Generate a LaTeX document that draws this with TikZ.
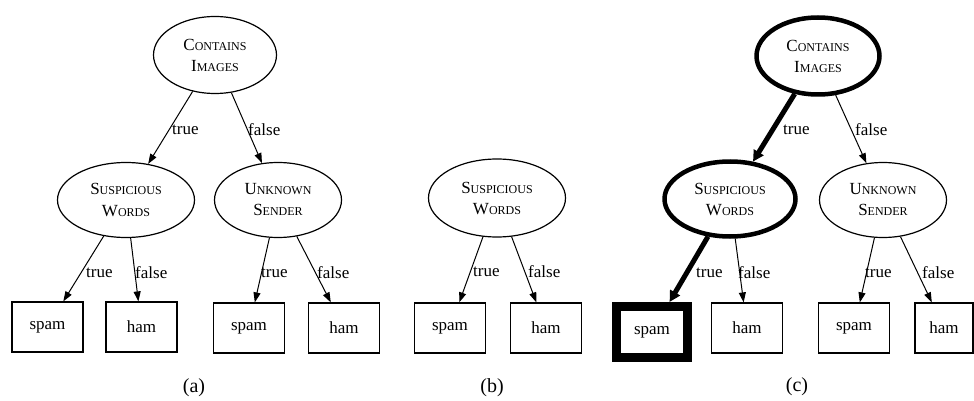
\documentclass[tikz,border=0pt]{standalone}
\usepackage{fontspec}
\setmainfont{Liberation Serif}
\usetikzlibrary{shapes.geometric,arrows.meta}
\newcommand{\fsc}[2]{{\fontsize{17}{21}\selectfont #1}{\fontsize{12}{21}\selectfont #2}}
\tikzset{
  dec/.style={ellipse, draw, line width=1.2pt, inner sep=0pt, align=center,
    font=\fontsize{17}{21}\selectfont, minimum height=75pt},
  wideE/.style={minimum width=137pt},
  narrowE/.style={minimum width=127pt},
  topE/.style={minimum width=123pt, minimum height=77pt},
  leaf/.style={rectangle, draw, line width=1.2pt, minimum width=71pt, minimum height=50pt,
    inner sep=0pt, font=\fontsize{17}{20}\selectfont},
  heavy/.style={line width=4.5pt},
  heavybox/.style={line width=9pt, minimum width=71pt, minimum height=51pt},
  conn/.style={draw, line width=1pt, -{Triangle[length=10pt,width=7pt]}},
  hconn/.style={draw, line width=5pt, -{Triangle[length=11pt,width=11pt]}},
  lbl/.style={anchor=west, inner sep=0pt, font=\fontsize{17}{20}\selectfont},
  captext/.style={inner sep=0pt, font=\fontsize{20}{24}\selectfont}
}
\begin{document}
\begin{tikzpicture}[x=1pt,y=-1pt]
\useasboundingbox[fill=white] (0,0) rectangle (974,401);
% ---------- (a) ----------
\node[dec,topE] (ciA) at (215,55) {\fsc{C}{ONTAINS}\\\fsc{I}{MAGES}};
\node[dec,wideE] (swA) at (126,200) {\fsc{S}{USPICIOUS}\\\fsc{W}{ORDS}};
\node[dec,narrowE] (usA) at (278,200) {\fsc{U}{NKNOWN}\\\fsc{S}{ENDER}};
\node[leaf] (s1A) at (47.5,327) {spam};
\node[leaf] (h1A) at (141.5,327) {ham};
\node[leaf] (s2A) at (249,328) {spam};
\node[leaf] (h2A) at (344,328) {ham};
\draw[conn] (ciA) -- (swA);
\draw[conn] (ciA) -- (usA);
\draw[conn] (swA) -- (s1A);
\draw[conn] (swA) -- (h1A);
\draw[conn] (usA) -- (s2A);
\draw[conn] (usA) -- (h2A);
\node[lbl] (t1A) at (172,130) {true};
\node[lbl] (f1A) at (248,130) {false};
\node[lbl] (t2A) at (86,273) {true};
\node[lbl] (f2A) at (135,273) {false};
\node[lbl] (t3A) at (261,273) {true};
\node[lbl] (f3A) at (317,273) {false};
\node[captext] (capA) at (194,388) {(a)};
% ---------- (b) ----------
\node[dec,wideE,minimum height=78pt] (swB) at (497,198) {\fsc{S}{USPICIOUS}\\\fsc{W}{ORDS}};
\node[leaf] (s1B) at (450,328) {spam};
\node[leaf] (h1B) at (546,328) {ham};
\draw[conn] (swB) -- (s1B);
\draw[conn] (swB) -- (h1B);
\node[lbl] (t1B) at (473,272) {true};
\node[lbl] (f1B) at (528,272) {false};
\node[captext] (capB) at (492,388) {(b)};
% ---------- (c) ----------
\node[dec,topE,heavy] (ciC) at (818,56) {\fsc{C}{ONTAINS}\\\fsc{I}{MAGES}};
\node[dec,narrowE,minimum width=131pt,heavy] (swC) at (730,199) {\fsc{S}{USPICIOUS}\\\fsc{W}{ORDS}};
\node[dec,narrowE] (usC) at (883,200) {\fsc{U}{NKNOWN}\\\fsc{S}{ENDER}};
\node[leaf,heavybox] (s1C) at (652,332) {spam};
\node[leaf] (h1C) at (747,328) {ham};
\node[leaf] (s2C) at (854,328) {spam};
\node[leaf,minimum width=58pt] (h2C) at (944,328) {ham};
\draw[hconn] (ciC) -- (swC);
\draw[conn] (ciC) -- (usC);
\draw[hconn] (swC) -- (s1C);
\draw[conn] (swC) -- (h1C);
\draw[conn] (usC) -- (s2C);
\draw[conn] (usC) -- (h2C);
\node[lbl] (t1C) at (783,130) {true};
\node[lbl] (f1C) at (855,130) {false};
\node[lbl] (t2C) at (696,273) {true};
\node[lbl] (f2C) at (738,273) {false};
\node[lbl] (t3C) at (865,273) {true};
\node[lbl] (f3C) at (922,273) {false};
\node[captext] (capC) at (797,387) {(c)};
\end{tikzpicture}
\end{document}
